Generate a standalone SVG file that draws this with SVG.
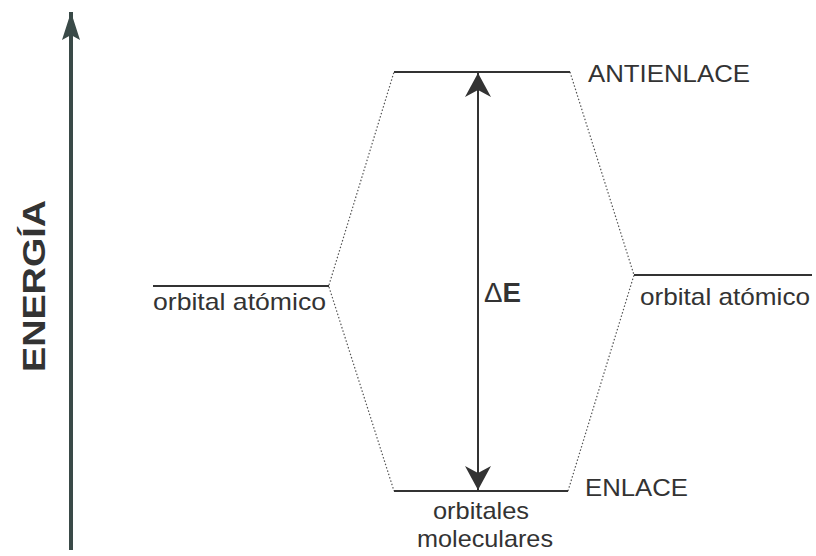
<svg xmlns="http://www.w3.org/2000/svg" width="816" height="556" viewBox="0 0 816 556">
<style>
.lvl{stroke:#333;stroke-width:2;fill:none}
.dot{stroke:#555;stroke-width:1.2;stroke-dasharray:1.5 2;fill:none}
.t{font-family:"Liberation Sans",Arial,sans-serif;fill:#333}
</style>
<defs>
<marker id="ah" viewBox="0 0 24 26" refX="24" refY="13" markerWidth="24" markerHeight="26" markerUnits="userSpaceOnUse" orient="auto">
<path d="M0,0 L24,13 L0,26 L7,13 Z" fill="#333"/>
</marker>
<marker id="ahBig" viewBox="0 0 28 18" refX="28" refY="9" markerWidth="28" markerHeight="18" markerUnits="userSpaceOnUse" orient="auto">
<path d="M0,0 L28,9 L0,18 L5,9 Z" fill="#3a4a48"/>
</marker>
</defs>
<rect width="816" height="556" fill="#fff"/>
<g id="axis">
<line x1="71" y1="550" x2="71" y2="12" stroke="#3a4a48" stroke-width="4" marker-end="url(#ahBig)"/>
<text class="t" x="0" y="0" font-size="31" font-weight="bold" text-anchor="middle" textLength="172" lengthAdjust="spacingAndGlyphs" transform="translate(45,286) rotate(-90)">ENERGÍA</text>
</g>
<g id="connectors">
<line class="dot" x1="329" y1="285" x2="394" y2="72"/>
<line class="dot" x1="329" y1="287" x2="394" y2="491"/>
<line class="dot" x1="570" y1="72" x2="634" y2="275"/>
<line class="dot" x1="568" y1="491" x2="634" y2="275"/>
<line x1="478" y1="280" x2="478" y2="73" stroke="#333" stroke-width="2" marker-end="url(#ah)"/>
<line x1="478" y1="280" x2="478" y2="490" stroke="#333" stroke-width="2" marker-end="url(#ah)"/>
</g>
<g id="left-ao">
<line class="lvl" x1="153" y1="286" x2="329" y2="286"/>
<text class="t" x="153" y="310" font-size="24" textLength="173" lengthAdjust="spacingAndGlyphs">orbital atómico</text>
</g>
<g id="right-ao">
<line class="lvl" x1="634" y1="275" x2="812" y2="275"/>
<text class="t" x="640" y="305" font-size="24" textLength="170" lengthAdjust="spacingAndGlyphs">orbital atómico</text>
</g>
<g id="antienlace">
<line class="lvl" x1="394" y1="72" x2="570" y2="72"/>
<text class="t" x="588" y="82" font-size="24" textLength="162" lengthAdjust="spacingAndGlyphs">ANTIENLACE</text>
</g>
<g id="enlace">
<line class="lvl" x1="394" y1="491" x2="568" y2="491"/>
<text class="t" x="585" y="496" font-size="24" textLength="103" lengthAdjust="spacingAndGlyphs">ENLACE</text>
<text class="t" x="433" y="519" font-size="24" textLength="96" lengthAdjust="spacingAndGlyphs">orbitales</text>
<text class="t" x="417" y="547" font-size="24" textLength="136" lengthAdjust="spacingAndGlyphs">moleculares</text>
</g>
<g id="delta">
<text class="t" x="484" y="302" font-size="27" textLength="37" lengthAdjust="spacingAndGlyphs"><tspan>Δ</tspan><tspan font-weight="bold">E</tspan></text>
</g>
</svg>
